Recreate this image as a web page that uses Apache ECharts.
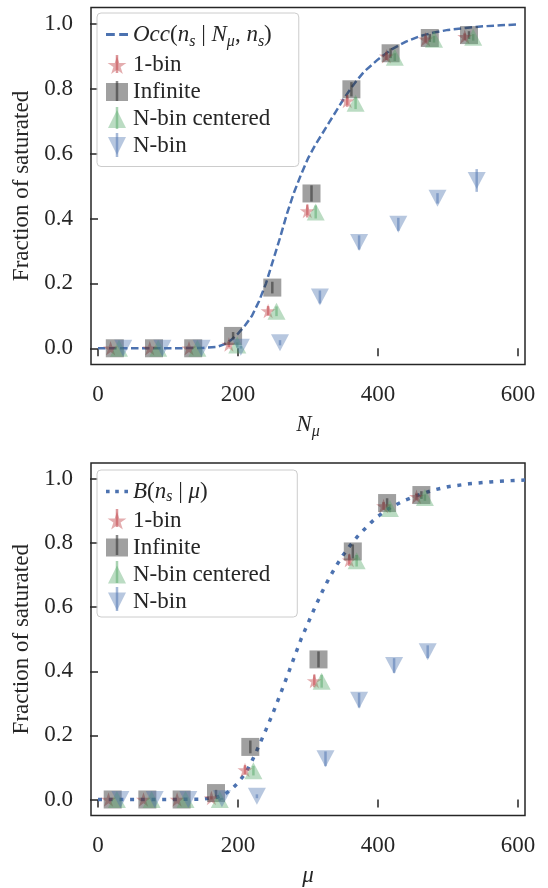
<!DOCTYPE html>
<html><head><meta charset="utf-8">
<script src="https://cdn.jsdelivr.net/npm/echarts@6/dist/echarts.min.js"></script>
<style>html,body{margin:0;padding:0;background:#fff}#c{width:548px;height:888px}</style>
</head><body><div id="c"></div><script>
// ---- tick labels ----
const xTicks = [0, 200, 400, 600];
const yTicks = [0, 0.2, 0.4, 0.6, 0.8, 1.0];

// ---- top panel: curve Occ(n_s | N_mu, n_s) ----
const occN    = [0, 50, 100, 150, 170, 180, 190, 200, 210, 220, 230, 240, 250, 260, 270, 280, 290, 300, 310, 320, 330, 340, 350, 360, 370, 380, 400, 420, 440, 460, 480, 500, 525, 550, 575, 600];
const occFrac = [0, 0, 0, 0.001, 0.004, 0.012, 0.025, 0.045, 0.07, 0.10, 0.145, 0.2, 0.27, 0.34, 0.415, 0.48, 0.535, 0.585, 0.625, 0.66, 0.695, 0.73, 0.765, 0.797, 0.826, 0.852, 0.89, 0.922, 0.945, 0.962, 0.973, 0.981, 0.987, 0.992, 0.995, 0.998];

// top panel markers
const t1binX = [18, 74, 130, 187, 243, 299, 356, 412, 468, 524];
const t1binY = [0, 0, 0, 0.012, 0.115, 0.423, 0.762, 0.90, 0.952, 0.96];
const t1binE = [0, 0, 0, 0.008, 0.015, 0.02, 0.018, 0.012, 0.01, 0.01];
const tInfX  = [24, 80, 136, 193, 249, 305, 362, 418, 474, 530];
const tInfY  = [0, 0, 0, 0.038, 0.187, 0.477, 0.798, 0.909, 0.956, 0.965];
const tInfE  = [0, 0, 0, 0.012, 0.018, 0.025, 0.022, 0.015, 0.012, 0.012];
const tNcX   = [30, 86, 142, 199, 255, 311, 368, 424, 480, 536];
const tNcY   = [0, 0, 0, 0.01, 0.114, 0.42, 0.755, 0.897, 0.952, 0.958];
const tNcE   = [0, 0, 0, 0.008, 0.015, 0.02, 0.018, 0.012, 0.01, 0.01];
const tNbX   = [36, 92, 148, 204, 260, 317, 373, 429, 485, 541];
const tNbY   = [0, 0, 0, 0.003, 0.017, 0.158, 0.326, 0.382, 0.462, 0.517];
const tNbE   = [0, 0, 0, 0.004, 0.008, 0.02, 0.022, 0.02, 0.016, 0.035];

// ---- bottom panel: curve B(n_s | mu) ----
const bMu   = [0, 50, 100, 150, 170, 180, 190, 200, 210, 220, 230, 240, 250, 260, 270, 280, 290, 300, 310, 320, 330, 340, 350, 360, 370, 380, 390, 400, 420, 440, 460, 480, 500, 530, 560, 590, 610];
const bFrac = [0, 0, 0, 0.001, 0.007, 0.015, 0.03, 0.052, 0.08, 0.12, 0.168, 0.218, 0.27, 0.326, 0.383, 0.442, 0.5, 0.55, 0.6, 0.647, 0.69, 0.728, 0.762, 0.792, 0.819, 0.842, 0.864, 0.884, 0.914, 0.935, 0.952, 0.966, 0.976, 0.985, 0.991, 0.995, 0.997];

const b1binX = [15, 65, 113, 162, 210, 309, 359, 408, 455];
const b1binY = [0, 0, 0, 0.005, 0.092, 0.37, 0.747, 0.916, 0.945];
const b1binE = [0, 0, 0, 0.005, 0.015, 0.02, 0.018, 0.012, 0.01];
const bInfX  = [21, 70.5, 119.5, 168.6, 217.6, 315, 364, 413, 462];
const bInfY  = [0, 0, 0, 0.02, 0.164, 0.437, 0.774, 0.925, 0.95];
const bInfE  = [0, 0, 0, 0.01, 0.02, 0.025, 0.022, 0.015, 0.012];
const bNcX   = [27, 76.6, 125, 174, 222, 319.5, 369.5, 417, 467];
const bNcY   = [0, 0, 0, 0, 0.09, 0.369, 0.745, 0.908, 0.942];
const bNcE   = [0, 0, 0, 0.004, 0.015, 0.02, 0.018, 0.012, 0.01];
const bNbX   = [32, 81, 129, 177, 227, 325, 373, 423, 471];
const bNbY   = [0, 0, 0, 0.002, 0.01, 0.127, 0.31, 0.418, 0.461];
const bNbE   = [0, 0, 0, 0.003, 0.006, 0.023, 0.023, 0.023, 0.02];

// ---- styling ----
const FONT = 'Liberation Serif';
const INK = '#262626';
const C_RED = 'rgba(196,78,82,0.58)';
const C_GRAY = 'rgba(50,50,50,0.58)';
const C_GREEN = 'rgba(85,168,104,0.5)';
const C_BLUE = 'rgba(76,114,176,0.5)';
const LINE_BLUE = '#4c72b0';
const STAR = 'path://M0,-1L0.2245,-0.309L0.951,-0.309L0.363,0.118L0.588,0.809L0,0.382L-0.588,0.809L-0.363,0.118L-0.951,-0.309L-0.2245,-0.309Z';
const TRI_DOWN = 'path://M-1,-1L1,-1L0,1Z';
const TRI_UP = 'path://M0,-1L1,1L-1,1Z';
const DASH_ICON = 'path://M0,0L8,0L8,2.6L0,2.6Z M12,0L20,0L20,2.6L12,2.6Z';
const DOT_ICON = 'path://M0,0L3.6,0L3.6,3.6L0,3.6Z M9.2,0L12.8,0L12.8,3.6L9.2,3.6Z M18.4,0L22,0L22,3.6L18.4,3.6Z';

function mkRich(lh) {
  return {
    m:   {fontFamily: FONT, fontSize: 23, lineHeight: lh, color: INK},
    it:  {fontFamily: FONT, fontSize: 23, lineHeight: lh, color: INK, fontStyle: 'italic'},
    sub: {fontFamily: FONT, fontSize: 16, lineHeight: 16, color: INK, fontStyle: 'italic', verticalAlign: 'bottom'},
    t:   {fontFamily: FONT, fontSize: 23, lineHeight: 24, color: INK}
  };
}

function scatter(name, xs, ys, g, sym, size, color) {
  return {type: 'scatter', name, xAxisIndex: g, yAxisIndex: g, symbol: sym, symbolSize: size,
    itemStyle: {color}, data: xs.map((x, i) => [x, ys[i]]), z: 3, emphasis: {disabled: true}};
}
function errbars(xs, ys, es, g, color) {
  return {type: 'custom', xAxisIndex: g, yAxisIndex: g, silent: true, z: 3,
    data: xs.map((x, i) => [x, ys[i], es[i]]), encode: {x: 0, y: 1},
    renderItem: (params, api) => {
      const x = api.value(0), y = api.value(1), e = api.value(2);
      if (!e) return null;
      const p1 = api.coord([x, y - e]), p2 = api.coord([x, y + e]);
      return {type: 'line', shape: {x1: p1[0], y1: p1[1], x2: p2[0], y2: p2[1]},
        style: {stroke: color, lineWidth: 2.5}};
    }};
}
function curve(name, xs, ys, g, dash, width) {
  return {type: 'line', name, xAxisIndex: g, yAxisIndex: g, symbol: 'none', showSymbol: false,
    smooth: false, data: xs.map((x, i) => [x, ys[i]]), z: 2,
    lineStyle: {color: LINE_BLUE, width, type: dash, cap: 'butt'}, itemStyle: {color: LINE_BLUE},
    emphasis: {disabled: true}};
}
function xAxis(g, name) {
  return {gridIndex: g, type: 'value', min: -10, max: 610,
    splitLine: {show: false}, axisLine: {show: false},
    axisTick: {show: true, length: 8, lineStyle: {color: INK, width: 1.5}, customValues: xTicks},
    axisLabel: {customValues: xTicks, color: INK, fontFamily: FONT, fontSize: 23, margin: 19},
    name, nameLocation: 'middle', nameGap: 45,
    nameTextStyle: {rich: mkRich(30)}};
}
function yAxis(g) {
  return {gridIndex: g, type: 'value', min: -0.05, max: 1.05,
    splitLine: {show: false}, axisLine: {show: false},
    axisTick: {show: true, length: 8, lineStyle: {color: INK, width: 1.5}, customValues: yTicks},
    axisLabel: {customValues: yTicks, color: INK, fontFamily: FONT, fontSize: 23, margin: 18,
      formatter: v => v.toFixed(1)},
    name: 'Fraction of saturated', nameLocation: 'middle', nameGap: 56,
    nameTextStyle: {color: INK, fontFamily: FONT, fontSize: 23}};
}
function legend(top, first, icon, fmt, lh, padBottom) {
  return {orient: 'vertical', left: 97, top, itemWidth: 22, itemHeight: 18, itemGap: 4,
    padding: [10, 27, padBottom, 9], backgroundColor: 'rgba(255,255,255,0.8)', borderColor: '#cccccc',
    borderWidth: 1, borderRadius: 4, selectedMode: false, symbolKeepAspect: true,
    data: [{name: first, icon, itemStyle: {color: LINE_BLUE}}, '1-bin', 'Infinite', 'N-bin centered', 'N-bin'],
    formatter: name => name === first ? fmt : '{t|' + name + '}',
    textStyle: {fontFamily: FONT, fontSize: 23, color: INK, rich: mkRich(lh)}};
}
// vertical error-bar strokes drawn through the legend marker icons
function legendBars(rows) {
  const cols = [C_RED, C_GRAY, C_GREEN, C_BLUE];
  const half = [9, 10, 11, 12];
  return rows.map((cy, i) => ({type: 'line', z: 100,
    shape: {x1: 117, y1: cy - half[i], x2: 117, y2: cy + half[i]},
    style: {stroke: cols[i], lineWidth: 2.5}}));
}

const occLabel = '{it|Occ}{m|(}{it|n}{sub|s}{m| | }{it|N}{sub|μ}{m|, }{it|n}{sub|s}{m|)}';
const bLabel = '{it|B}{m|(}{it|n}{sub|s}{m| | }{it|μ}{m|)}';

const option = {
  animation: false,
  backgroundColor: '#ffffff',
  grid: [
    {left: 91, right: 23, top: 7.5, height: 357, show: true, borderColor: INK, borderWidth: 1.5, containLabel: false},
    {left: 91, right: 23, top: 463, height: 357, show: true, borderColor: INK, borderWidth: 1.5, containLabel: false}
  ],
  xAxis: [xAxis(0, '{it|N}{sub|μ}'), xAxis(1, '{it|μ}')],
  yAxis: [yAxis(0), yAxis(1)],
  legend: [legend(13, 'occ', DASH_ICON, occLabel, 30, 9), legend(470, 'B', DOT_ICON, bLabel, 27, 4)],
  graphic: legendBars([64, 91, 118, 145]).concat(legendBars([518, 545, 572, 599])),
  series: [
    curve('occ', occN, occFrac, 0, [7.5, 3.5], 2.5),
    scatter('1-bin', t1binX, t1binY, 0, STAR, [15, 14.5], C_RED),
    errbars(t1binX, t1binY, t1binE, 0, C_RED),
    scatter('Infinite', tInfX, tInfY, 0, 'rect', 18, C_GRAY),
    errbars(tInfX, tInfY, tInfE, 0, C_GRAY),
    scatter('N-bin centered', tNcX, tNcY, 0, TRI_UP, [18, 17], C_GREEN),
    errbars(tNcX, tNcY, tNcE, 0, C_GREEN),
    scatter('N-bin', tNbX, tNbY, 0, TRI_DOWN, [18, 17], C_BLUE),
    errbars(tNbX, tNbY, tNbE, 0, C_BLUE),

    curve('B', bMu, bFrac, 1, [4, 6.7], 3.5),
    scatter('1-bin', b1binX, b1binY, 1, STAR, [15, 14.5], C_RED),
    errbars(b1binX, b1binY, b1binE, 1, C_RED),
    scatter('Infinite', bInfX, bInfY, 1, 'rect', 18, C_GRAY),
    errbars(bInfX, bInfY, bInfE, 1, C_GRAY),
    scatter('N-bin centered', bNcX, bNcY, 1, TRI_UP, [18, 17], C_GREEN),
    errbars(bNcX, bNcY, bNcE, 1, C_GREEN),
    scatter('N-bin', bNbX, bNbY, 1, TRI_DOWN, [18, 17], C_BLUE),
    errbars(bNbX, bNbY, bNbE, 1, C_BLUE)
  ]
};
const chart = echarts.init(document.getElementById('c'), null, {renderer: 'canvas'});
chart.setOption(option);
</script></body></html>
